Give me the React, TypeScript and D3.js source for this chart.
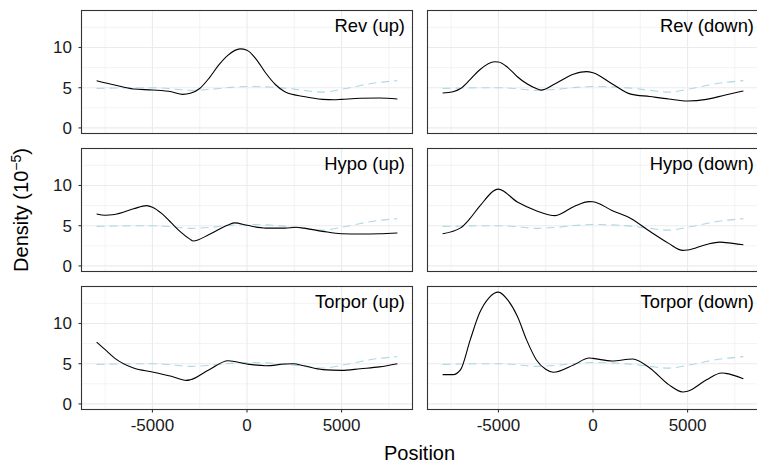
import React from "react";
import * as d3 from "d3";

// Reference (dashed) density, shared by all panels
const refX = [-7950, -7000, -6000, -5000, -4000, -3000, -2000, -1000, 0, 1000, 2000, 3000, 4000, 5000, 6000, 7000, 7950];
const refY = [4.92, 4.96, 5.0, 5.0, 4.88, 4.67, 4.78, 5.02, 5.15, 5.1, 4.95, 4.67, 4.45, 4.8, 5.28, 5.66, 5.88];

const revUpX = [-7950, -7000, -6000, -5000, -4000, -3400, -3000, -2500, -2000, -1500, -1000, -370, 0, 500, 1000, 1500, 2000, 3000, 4000, 4600, 5000, 6000, 7000, 7950];
const revUpY = [5.87, 5.33, 4.83, 4.71, 4.5, 4.17, 4.3, 4.9, 6.2, 7.8, 9.05, 9.83, 9.67, 8.5, 6.8, 5.4, 4.5, 3.9, 3.55, 3.5, 3.55, 3.68, 3.72, 3.6];

const revDownX = [-7950, -7400, -7000, -6500, -6000, -5200, -5000, -4500, -4000, -3000, -2750, -2000, -1000, -350, 0, 1000, 2000, 3000, 4000, 5000, 6000, 7000, 7950];
const revDownY = [4.34, 4.5, 4.9, 6.0, 7.2, 8.22, 8.2, 7.5, 6.36, 4.9, 4.7, 5.5, 6.7, 7.0, 6.86, 5.5, 4.2, 3.9, 3.6, 3.35, 3.55, 4.1, 4.6];

const hypoUpX = [-7950, -7500, -7000, -6000, -5300, -5000, -4500, -4000, -3500, -3000, -2850, -2000, -1000, -650, 0, 1000, 2000, 2600, 3000, 4000, 5000, 6000, 7000, 7950];
const hypoUpY = [6.46, 6.3, 6.4, 7.1, 7.5, 7.3, 6.5, 5.35, 4.2, 3.3, 3.1, 3.9, 5.1, 5.35, 5.05, 4.7, 4.7, 4.8, 4.7, 4.3, 4.0, 3.97, 4.0, 4.1];

const hypoDownX = [-7950, -7000, -6500, -6000, -5000, -4000, -3000, -2000, -1000, -200, 0, 1000, 2000, 3000, 4000, 4750, 5000, 6000, 6700, 7000, 7950];
const hypoDownY = [4.0, 4.73, 5.9, 7.4, 9.55, 7.94, 6.87, 6.25, 7.4, 8.0, 7.98, 6.9, 5.9, 4.3, 2.8, 1.93, 1.98, 2.67, 2.96, 2.9, 2.63];

const torporUpX = [-7950, -7500, -7000, -6000, -5000, -4000, -3200, -3000, -2000, -1000, 0, 1000, 2000, 2450, 3000, 4000, 5000, 6000, 7000, 7950];
const torporUpY = [7.69, 6.74, 5.7, 4.46, 3.97, 3.43, 2.93, 3.0, 4.26, 5.37, 4.96, 4.75, 4.96, 5.0, 4.75, 4.26, 4.17, 4.38, 4.6, 5.0];

const torporDownX = [-7950, -7400, -7000, -6500, -6000, -5500, -5000, -4500, -4000, -3500, -3000, -2500, -2100, -1000, -200, 0, 1000, 2100, 3000, 4000, 4750, 5000, 6000, 6800, 7000, 7950];
const torporDownY = [3.64, 3.64, 4.26, 7.9, 11.3, 13.2, 13.9, 12.9, 10.9, 7.9, 5.5, 4.3, 3.93, 4.88, 5.7, 5.66, 5.33, 5.58, 4.46, 2.4, 1.49, 1.57, 3.0, 3.84, 3.8, 3.14];

const panelLabels = ["Rev (up)", "Rev (down)", "Hypo (up)", "Hypo (down)", "Torpor (up)", "Torpor (down)"];
const panelX = [revUpX, revDownX, hypoUpX, hypoDownX, torporUpX, torporDownX];
const panelY = [revUpY, revDownY, hypoUpY, hypoDownY, torporUpY, torporDownY];

const xMajor = [-5000, 0, 5000];
const xMinor = [-7500, -2500, 2500, 7500];
const yMajor = [0, 5, 10];
const yMinor = [2.5, 7.5, 12.5];

const W = 757;
const H = 463;
const colLeft = [81.5, 427.5];
const panelW = 331;
const rowTop = [10.5, 148.5, 286.5];
const panelH = 123;
const labelRight = [405, 754];

const FONT = "Liberation Sans, Arial, Helvetica, sans-serif";

export default function App() {
  const panels = panelLabels.map((label, i) => {
    const col = i % 2;
    const row = Math.floor(i / 2);
    const x0 = colLeft[col];
    const y0 = rowTop[row];
    const x = d3.scaleLinear().domain([-8750, 8750]).range([x0, x0 + panelW]);
    const y = d3.scaleLinear().domain([-0.695, 14.6]).range([y0 + panelH, y0]);
    const line = d3
      .line<[number, number]>()
      .x((d) => x(d[0]))
      .y((d) => y(d[1]))
      .curve(d3.curveMonotoneX);
    const data: [number, number][] = panelX[i].map((v, k) => [v, panelY[i][k]]);
    const ref: [number, number][] = refX.map((v, k) => [v, refY[k]]);
    return (
      <g key={label}>
        <rect x={x0} y={y0} width={panelW} height={panelH} fill="#fff" />
        {xMinor.map((v) => (
          <line key={"xm" + v} x1={x(v)} x2={x(v)} y1={y0} y2={y0 + panelH} stroke="#ebebeb" strokeWidth={0.6} />
        ))}
        {yMinor.map((v) => (
          <line key={"ym" + v} x1={x0} x2={x0 + panelW} y1={y(v)} y2={y(v)} stroke="#ebebeb" strokeWidth={0.6} />
        ))}
        {xMajor.map((v) => (
          <line key={"xM" + v} x1={x(v)} x2={x(v)} y1={y0} y2={y0 + panelH} stroke="#ebebeb" strokeWidth={1.1} />
        ))}
        {yMajor.map((v) => (
          <line key={"yM" + v} x1={x0} x2={x0 + panelW} y1={y(v)} y2={y(v)} stroke="#ebebeb" strokeWidth={1.1} />
        ))}
        <path d={line(ref) || ""} fill="none" stroke="#add8e6" strokeWidth={1.1} strokeDasharray="8,5" />
        <path d={line(data) || ""} fill="none" stroke="#000" strokeWidth={1.1} />
        <rect x={x0} y={y0} width={panelW} height={panelH} fill="none" stroke="#333" strokeWidth={1.1} />
        <text x={labelRight[col]} y={y0 + 21} textAnchor="end" fontFamily={FONT} fontSize={18.4} fill="#000">
          {label}
        </text>
        {col === 0 &&
          yMajor.map((v) => (
            <g key={"yt" + v}>
              <line x1={x0 - 3} x2={x0} y1={y(v)} y2={y(v)} stroke="#333" strokeWidth={1.1} />
              <text x={x0 - 9.5} y={y(v) + 6} textAnchor="end" fontFamily={FONT} fontSize={17} fill="#1a1a1a">
                {v}
              </text>
            </g>
          ))}
        {row === 2 &&
          xMajor.map((v) => (
            <g key={"xt" + v}>
              <line x1={x(v)} x2={x(v)} y1={y0 + panelH} y2={y0 + panelH + 3} stroke="#333" strokeWidth={1.1} />
              <text x={x(v)} y={430.7} textAnchor="middle" fontFamily={FONT} fontSize={17} fill="#1a1a1a">
                {v}
              </text>
            </g>
          ))}
      </g>
    );
  });

  return (
    <svg width={W} height={H} style={{ position: "absolute", left: 0, top: 0, background: "#fff" }}>
      <rect x={0} y={0} width={W} height={H} fill="#fff" />
      {panels}
      <text x={419.5} y={460} textAnchor="middle" fontFamily={FONT} fontSize={20} fill="#000">
        Position
      </text>
      <text transform="translate(28,210) rotate(-90)" textAnchor="middle" fontFamily={FONT} fontSize={20} fill="#000">
        Density (10
        <tspan dy={-7} fontSize={14}>−5</tspan>
        <tspan dy={7}>)</tspan>
      </text>
    </svg>
  );
}
